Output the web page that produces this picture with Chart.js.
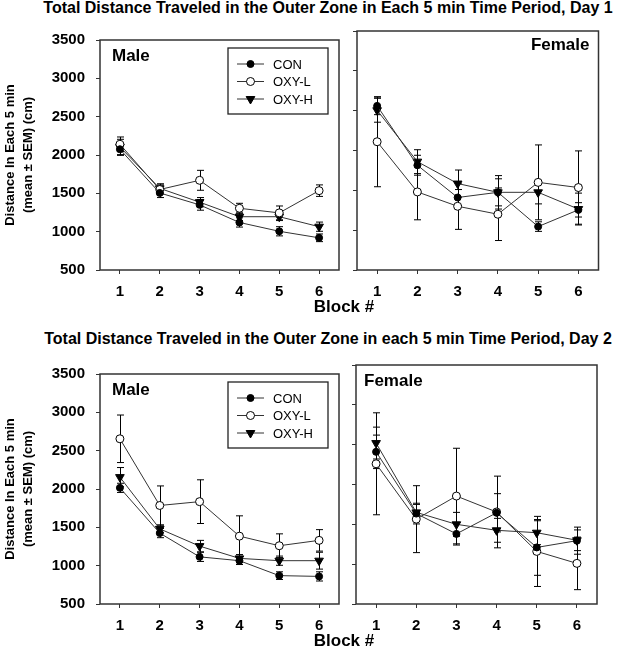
<!DOCTYPE html>
<html>
<head>
<meta charset="utf-8">
<script src="https://cdn.jsdelivr.net/npm/chart.js@4.4.1/dist/chart.umd.min.js"></script>
<style>
  body { margin: 0; background: #fff; width: 617px; height: 656px; position: relative; overflow: hidden;
         font-family: Arial, "Liberation Sans", sans-serif; }
  canvas { position: absolute; }
  .ttl { position: absolute; left: 0; width: 656px; text-align: center; font-weight: bold;
         font-size: 16px; line-height: 18px; white-space: nowrap; color: #000; }
  .xt { position: absolute; left: 244px; width: 200px; text-align: center; font-weight: bold;
        font-size: 17px; line-height: 20px; color: #000; }
</style>
</head>
<body>
<div class="ttl" style="top:-1px">Total Distance Traveled in the Outer Zone in Each 5 min Time Period, Day 1</div>
<div class="ttl" style="top:330px">Total Distance Traveled in the Outer Zone in each 5 min Time Period, Day 2</div>
<canvas id="d1m" width="345" height="300" style="left:0;top:20px"></canvas>
<canvas id="d1f" width="272" height="300" style="left:345px;top:20px"></canvas>
<canvas id="d2m" width="345" height="300" style="left:0;top:354px"></canvas>
<canvas id="d2f" width="273" height="300" style="left:344px;top:354px"></canvas>
<div class="xt" style="top:297px">Block #</div>
<div class="xt" style="top:631px">Block #</div>
<script>
const blocks = ["1", "2", "3", "4", "5", "6"];
const seriesNames = ["CON", "OXY-L", "OXY-H"];
const yTicks = [500, 1000, 1500, 2000, 2500, 3000, 3500];

// Day 1, male
const d1MaleCon = [2075, 1505, 1350, 1120, 1005, 920];
const d1MaleConSem = [80, 60, 70, 60, 60, 50];
const d1MaleOxyL = [2140, 1550, 1670, 1305, 1245, 1535];
const d1MaleOxyLSem = [95, 60, 130, 65, 90, 75];
const d1MaleOxyH = [2105, 1565, 1385, 1195, 1195, 1065];
const d1MaleOxyHSem = [100, 60, 60, 50, 50, 60];

// Day 1, female
const d1FemCon = [2560, 1815, 1410, 1475, 1045, 1255];
const d1FemConSem = [110, 125, 100, 210, 60, 90];
const d1FemOxyL = [2110, 1480, 1300, 1200, 1600, 1535];
const d1FemOxyLSem = [565, 350, 290, 330, 470, 460];
const d1FemOxyH = [2505, 1860, 1585, 1475, 1475, 1265];
const d1FemOxyHSem = [150, 150, 170, 170, 145, 200];

// Day 2, male
const d2MaleCon = [2015, 1425, 1115, 1065, 870, 860];
const d2MaleConSem = [60, 60, 60, 50, 50, 60];
const d2MaleOxyL = [2655, 1785, 1835, 1385, 1260, 1330];
const d2MaleOxyLSem = [310, 255, 285, 265, 155, 140];
const d2MaleOxyH = [2155, 1480, 1255, 1095, 1065, 1065];
const d2MaleOxyHSem = [125, 50, 75, 50, 60, 110];

// Day 2, female
const d2FemCon = [2410, 1635, 1380, 1645, 1210, 1295];
const d2FemConSem = [210, 130, 140, 240, 350, 170];
const d2FemOxyL = [2260, 1565, 1855, 1655, 1160, 1010];
const d2FemOxyLSem = [640, 420, 600, 450, 440, 330];
const d2FemOxyH = [2520, 1650, 1500, 1425, 1395, 1300];
const d2FemOxyHSem = [200, 100, 150, 150, 150, 130];

const FONT = "Arial, 'Liberation Sans', sans-serif";
const INK = "#333";

const styles = [
  { pointStyle: "circle", pointRadius: 3.5, pointRotation: 0, pointBackgroundColor: "#000" },
  { pointStyle: "circle", pointRadius: 4, pointRotation: 0, pointBackgroundColor: "#fff" },
  { pointStyle: "triangle", pointRadius: 5, pointRotation: 180, pointBackgroundColor: "#000" }
];

function makeSets(values, sems) {
  return values.map((v, i) => Object.assign({
    label: seriesNames[i],
    data: v,
    sem: sems[i],
    borderColor: INK,
    borderWidth: 1,
    pointBorderColor: "#000",
    pointBorderWidth: 1,
    tension: 0
  }, styles[i]));
}

// vertical error bars with caps, drawn under the markers
const errorBars = {
  id: "errorBars",
  beforeDatasetsDraw(chart) {
    const { ctx } = chart;
    const y = chart.scales.y;
    ctx.save();
    ctx.strokeStyle = "#000";
    ctx.lineWidth = 1;
    chart.data.datasets.forEach((ds, i) => {
      const meta = chart.getDatasetMeta(i);
      ds.data.forEach((v, j) => {
        const px = Math.round(meta.data[j].x) + 0.5;
        const t = y.getPixelForValue(v + ds.sem[j]);
        const b = y.getPixelForValue(v - ds.sem[j]);
        ctx.beginPath();
        ctx.moveTo(px, t); ctx.lineTo(px, b);
        ctx.moveTo(px - 3.5, t); ctx.lineTo(px + 3.5, t);
        ctx.moveTo(px - 3.5, b); ctx.lineTo(px + 3.5, b);
        ctx.stroke();
      });
    });
    ctx.restore();
  }
};

// frame, panel label and legend box
const panelDeco = {
  id: "panelDeco",
  afterDraw(chart, args, o) {
    const { ctx, chartArea: a } = chart;
    ctx.save();
    ctx.strokeStyle = INK;
    ctx.lineWidth = 1.5;
    ctx.strokeRect(a.left, a.top, a.right - a.left, a.bottom - a.top);

    ctx.fillStyle = "#000";
    ctx.font = "bold 17px " + FONT;
    ctx.textBaseline = "middle";
    if (o.labelAlign === "right") {
      ctx.textAlign = "right";
      ctx.fillText(o.label, a.right - 9, a.top + 14);
    } else {
      ctx.textAlign = "left";
      ctx.fillText(o.label, a.left + o.labelDx, a.top + 16);
    }

    if (o.legend) {
      const w = 100, h = 66;
      const bx = a.right - 11 - w, by = a.top + 8;
      ctx.fillStyle = "#fff";
      ctx.fillRect(bx, by, w, h);
      ctx.strokeStyle = "#222";
      ctx.lineWidth = 1.3;
      ctx.strokeRect(bx, by, w, h);
      ctx.font = "13px " + FONT;
      ctx.textAlign = "left";
      chart.data.datasets.forEach((ds, i) => {
        const cy = by + 16 + i * 17.5;
        ctx.strokeStyle = ds.borderColor;
        ctx.lineWidth = 1;
        ctx.beginPath();
        ctx.moveTo(bx + 9, cy); ctx.lineTo(bx + 36, cy);
        ctx.stroke();
        ctx.fillStyle = ds.pointBackgroundColor;
        ctx.strokeStyle = ds.pointBorderColor;
        Chart.helpers.drawPoint(ctx, {
          pointStyle: ds.pointStyle, rotation: ds.pointRotation,
          radius: ds.pointRadius, borderWidth: 1
        }, bx + 22.5, cy);
        ctx.fillStyle = "#000";
        ctx.fillText(ds.label, bx + 45, cy + 1);
      });
    }
    ctx.restore();
  }
};

function makeChart(id, values, sems, cfg) {
  new Chart(document.getElementById(id), {
    type: "line",
    data: { labels: blocks, datasets: makeSets(values, sems) },
    plugins: [errorBars, panelDeco],
    options: {
      responsive: false,
      animation: false,
      layout: { padding: { top: 11, right: cfg.padRight, bottom: 10, left: 0 } },
      plugins: {
        legend: { display: false },
        tooltip: { enabled: false },
        panelDeco: { label: cfg.label, labelAlign: cfg.labelAlign, labelDx: cfg.labelDx, legend: cfg.legend }
      },
      scales: {
        x: {
          type: "category",
          offset: true,
          afterFit: s => { s.height = 40; },
          border: { display: false },
          grid: { drawOnChartArea: false, drawTicks: true, tickLength: 4, color: INK, offset: false },
          ticks: { color: "#000", padding: 9, maxRotation: 0, font: { family: FONT, size: 15, weight: "bold" } }
        },
        y: {
          min: 500,
          max: 3500,
          afterBuildTicks: s => { s.ticks = yTicks.map(v => ({ value: v })); },
          afterFit: s => { s.width = cfg.yWidth; },
          border: { display: false },
          grid: { drawOnChartArea: false, drawTicks: true, tickLength: 4, color: INK },
          ticks: {
            display: cfg.yLabels, color: "#000", padding: 11,
            callback: v => String(v),
            font: { family: FONT, size: 15, weight: "bold" }
          },
          title: {
            display: cfg.yLabels,
            text: ["Distance In Each 5 min", "(mean \u00b1 SEM) (cm)"],
            color: "#000",
            padding: { top: 1, bottom: 0 },
            font: { family: FONT, size: 13, weight: "bold", lineHeight: 1.4 }
          }
        }
      }
    }
  });
}

makeChart("d1m", [d1MaleCon, d1MaleOxyL, d1MaleOxyH], [d1MaleConSem, d1MaleOxyLSem, d1MaleOxyHSem],
  { padRight: 3.3, yWidth: 100, yLabels: true, label: "Male", labelAlign: "left", labelDx: 12, legend: true });
makeChart("d1f", [d1FemCon, d1FemOxyL, d1FemOxyH], [d1FemConSem, d1FemOxyLSem, d1FemOxyHSem],
  { padRight: 18.5, yWidth: 12, yLabels: false, label: "Female", labelAlign: "right", legend: false });
makeChart("d2m", [d2MaleCon, d2MaleOxyL, d2MaleOxyH], [d2MaleConSem, d2MaleOxyLSem, d2MaleOxyHSem],
  { padRight: 5.7, yWidth: 100, yLabels: true, label: "Male", labelAlign: "left", labelDx: 12, legend: true });
makeChart("d2f", [d2FemCon, d2FemOxyL, d2FemOxyH], [d2FemConSem, d2FemOxyLSem, d2FemOxyHSem],
  { padRight: 20, yWidth: 12, yLabels: false, label: "Female", labelAlign: "left", labelDx: 8, legend: false });
</script>
</body>
</html>
